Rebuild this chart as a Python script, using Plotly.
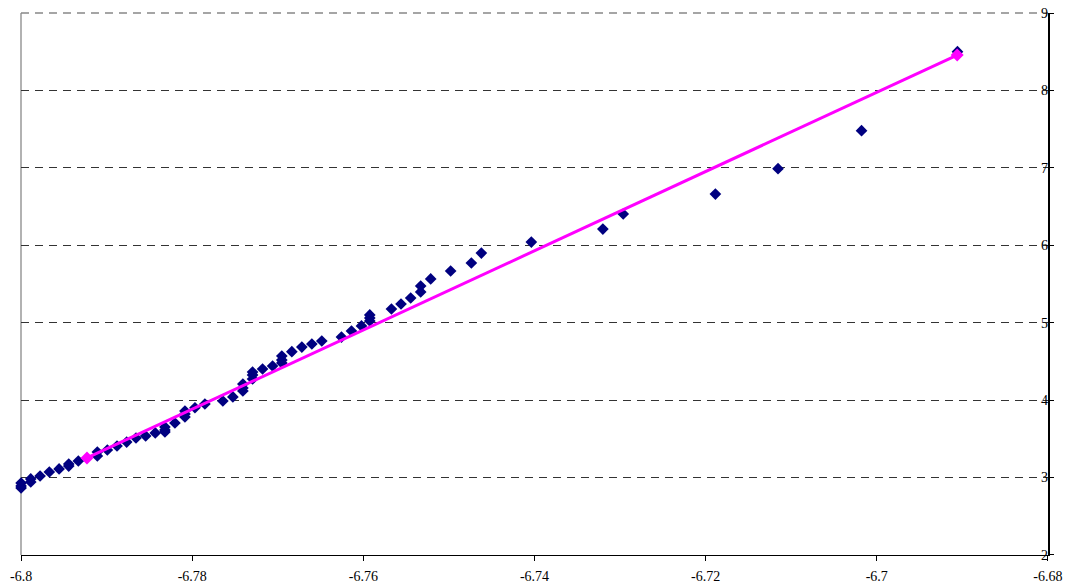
import plotly.graph_objects as go

# Scatter data (navy diamonds)
x_vals = [
    -6.8000, -6.8000, -6.8000,
    -6.79887, -6.79887,
    -6.79778, -6.79670, -6.79556,
    -6.79443, -6.79443,
    -6.79331,
    -6.79109, -6.79109,
    -6.78992, -6.78879, -6.78766, -6.78657, -6.78544, -6.78432,
    -6.78319, -6.78319, -6.78319,
    -6.78202,
    -6.78085, -6.78085, -6.78085,
    -6.77968, -6.77852, -6.77642, -6.77525,
    -6.77408, -6.77408, -6.77408,
    -6.77295, -6.77295, -6.77295,
    -6.77178, -6.77061,
    -6.76953, -6.76953, -6.76953,
    -6.76836, -6.76719, -6.76602, -6.76486, -6.76256, -6.76139, -6.76022,
    -6.75925, -6.75925, -6.75925,
    -6.75672, -6.75560, -6.75447,
    -6.75330, -6.75330,
    -6.75213, -6.74980, -6.74738, -6.74621, -6.74037, -6.73201, -6.72963,
    -6.71886, -6.71154, -6.70178, -6.69057,
]
y_vals = [
    2.930, 2.891, 2.865,
    2.982, 2.943,
    3.020, 3.072, 3.111,
    3.175, 3.149,
    3.214,
    3.330, 3.279,
    3.356, 3.408, 3.459, 3.511, 3.537, 3.576,
    3.653, 3.614, 3.589,
    3.705,
    3.860, 3.821, 3.782,
    3.902, 3.950, 3.989, 4.041,
    4.208, 4.157, 4.118,
    4.363, 4.325, 4.273,
    4.402, 4.441,
    4.570, 4.518, 4.480,
    4.626, 4.686, 4.725, 4.764, 4.815, 4.893, 4.958,
    5.100, 5.061, 5.022,
    5.177, 5.242, 5.319,
    5.474, 5.397,
    5.565, 5.668, 5.771, 5.900, 6.042, 6.210, 6.404,
    6.662, 6.989, 7.480, 8.500,
]

# Fitted line (magenta)
line_x = [-6.7923, -6.6906]
line_y = [3.253, 8.457]

# Axis ticks
x_ticks = [-6.8, -6.78, -6.76, -6.74, -6.72, -6.7, -6.68]
x_tick_labels = ["-6.8", "-6.78", "-6.76", "-6.74", "-6.72", "-6.7", "-6.68"]
y_ticks = [2, 3, 4, 5, 6, 7, 8, 9]
y_tick_labels = ["2", "3", "4", "5", "6", "7", "8", "9"]

fig = go.Figure()
fig.add_trace(go.Scatter(
    x=x_vals, y=y_vals, mode="markers",
    marker=dict(symbol="diamond", size=9, color="#000080"),
    showlegend=False, cliponaxis=False,
))
fig.add_trace(go.Scatter(
    x=line_x, y=line_y, mode="lines+markers",
    line=dict(color="#FF00FF", width=3),
    marker=dict(symbol="diamond", size=10, color="#FF00FF"),
    showlegend=False, cliponaxis=False,
))

# plot-area border: grey left edge, grey dashed top edge
fig.add_shape(type="line", xref="paper", yref="paper", x0=0, x1=0, y0=0, y1=1,
              line=dict(color="#999999", width=1.5), layer="below")
fig.add_shape(type="line", xref="paper", yref="paper", x0=0, x1=1, y0=1, y1=1,
              line=dict(color="#888888", width=1.5, dash="8px,6px"), layer="below")

font_family = "Liberation Serif, Times New Roman, serif"
fig.update_layout(
    width=1066, height=585,
    margin=dict(l=21, r=18, t=13, b=30, autoexpand=False),
    paper_bgcolor="white", plot_bgcolor="white",
    showlegend=False,
    font=dict(family=font_family, size=14, color="black"),
    xaxis=dict(
        range=[-6.80001, -6.67999], tickvals=x_ticks, ticktext=x_tick_labels,
        automargin=False,
        showgrid=False, zeroline=False,
        showline=True, linecolor="black", linewidth=1,
        ticks="outside", ticklen=5, tickcolor="black",
        ticklabelstandoff=3, ticklabeloverflow="allow",
        tickfont=dict(family=font_family, size=14, color="black"),
    ),
    yaxis=dict(
        range=[1.9999, 9.0001], tickvals=y_ticks, ticktext=y_tick_labels,
        automargin=False,
        side="right", ticklabelposition="inside", ticklabeloverflow="allow",
        showgrid=True, gridcolor="#333333", griddash="8px,6px", gridwidth=1,
        zeroline=False,
        showline=True, linecolor="black", linewidth=1.5,
        ticks="outside", ticklen=4, tickcolor="black",
        tickfont=dict(family=font_family, size=14, color="black"),
    ),
)

fig.write_html("out.html", config={"displayModeBar": False},
               post_script="document.body.style.margin='0';")
